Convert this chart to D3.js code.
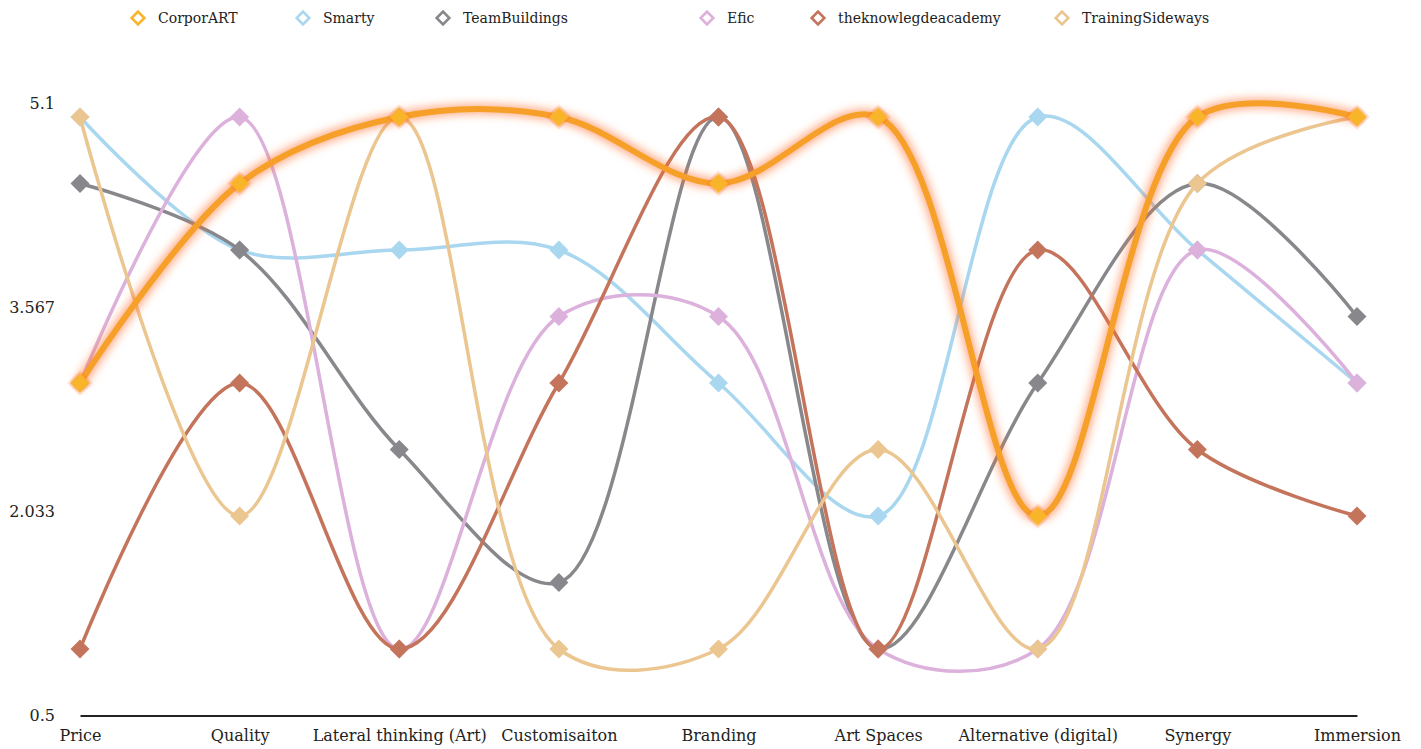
<!DOCTYPE html>
<html>
<head>
<meta charset="utf-8">
<script src="https://cdn.jsdelivr.net/npm/d3@7"></script>
<style>
  body { margin: 0; background: #fff; }
  svg text { font-family: "DejaVu Serif", serif; fill: #222; }
</style>
</head>
<body>
<div id="chart"></div>
<script>
const categories = ["Price", "Quality", "Lateral thinking (Art)", "Customisaiton", "Branding",
    "Art Spaces", "Alternative (digital)", "Synergy", "Immersion"];
const yTicks = [0.5, 2.033, 3.567, 5.1];

const seriesNames = ["CorporART", "Smarty", "TeamBuildings", "Efic", "theknowlegdeacademy", "TrainingSideways"];
const corporART = [3, 4.5, 5, 5, 4.5, 5, 2, 5, 5];
const smarty = [5, 4, 4, 4, 3, 2, 5, 4, 3];
const teamBuildings = [4.5, 4, 2.5, 1.5, 5, 1, 3, 4.5, 3.5];
const efic = [3, 5, 1, 3.5, 3.5, 1, 1, 4, 3];
const knowlegdeAcademy = [1, 3, 1, 3, 5, 1, 4, 2.5, 2];
const trainingSideways = [5, 2, 5, 1, 1, 2.5, 1, 4.5, 5];

const seriesValues = [corporART, smarty, teamBuildings, efic, knowlegdeAcademy, trainingSideways];
const lineColors = ["#f6a02b", "#a9d7f0", "#88888c", "#dcb1dc", "#c5745c", "#ebc690"];
const dotColors = ["#f8b52a", "#a9d7f0", "#88888c", "#dcb1dc", "#c5745c", "#ebc690"];

const W = 1421, H = 749;
const svg = d3.select("#chart").append("svg")
    .attr("width", W).attr("height", H);

// glow for the highlighted series
const defs = svg.append("defs");
const glow = defs.append("filter").attr("id", "glow")
    .attr("x", "-10%").attr("y", "-10%").attr("width", "120%").attr("height", "120%");
glow.append("feFlood").attr("flood-color", "#ff6a2a").attr("flood-opacity", 0.55).attr("result", "c");
glow.append("feComposite").attr("in", "c").attr("in2", "SourceAlpha").attr("operator", "in").attr("result", "col");
glow.append("feMorphology").attr("in", "col").attr("operator", "dilate").attr("radius", 2).attr("result", "dil");
glow.append("feGaussianBlur").attr("in", "dil").attr("stdDeviation", 4).attr("result", "blur");
const merge = glow.append("feMerge");
merge.append("feMergeNode").attr("in", "blur");
merge.append("feMergeNode").attr("in", "SourceGraphic");

const x = d3.scalePoint().domain(categories).range([80, 1357]);
const y = d3.scaleLinear().domain([0.5, 5.1]).range([715.5, 103.7]);

// y tick labels (no axis line)
svg.append("g").selectAll("text")
    .data(yTicks)
    .join("text")
    .attr("x", 55)
    .attr("y", d => y(d))
    .attr("dy", "0.35em")
    .attr("text-anchor", "end")
    .style("font-size", "16px")
    .text(d => d);

// bottom axis
const xAxis = svg.append("g")
    .attr("transform", `translate(0,${y(0.5)})`)
    .call(d3.axisBottom(x).tickSize(0).tickPadding(14));
xAxis.select(".domain").attr("stroke", "#222").attr("stroke-width", 2.2);
xAxis.selectAll("text")
    .style("font-family", "DejaVu Serif, serif")
    .style("font-size", "16px")
    .attr("fill", "#222");

const line = d3.line()
    .x((d, i) => x(categories[i]))
    .y(d => y(d))
    .curve(d3.curveCatmullRom);

const diamond = d3.symbol().type(d3.symbolSquare).size(180);

// draw highlighted series last so it sits on top
const order = [1, 2, 3, 4, 5, 0];
order.forEach(si => {
    const g = svg.append("g");
    const vals = seriesValues[si];
    const hl = si === 0;
    g.append("path")
        .datum(vals)
        .attr("d", line)
        .attr("fill", "none")
        .attr("stroke", lineColors[si])
        .attr("stroke-width", hl ? 6 : 3.5)
        .attr("stroke-linejoin", "round")
        .attr("filter", hl ? "url(#glow)" : null);
    g.selectAll("path.dot")
        .data(vals)
        .join("path")
        .attr("class", "dot")
        .attr("d", diamond)
        .attr("transform", (d, i) => `translate(${x(categories[i])},${y(d)}) rotate(45)`)
        .attr("fill", dotColors[si])
        .attr("filter", hl ? "url(#glow)" : null);
});

// legend
const legendX = [138, 303, 443, 707, 818, 1062];
const legend = svg.append("g").selectAll("g")
    .data(seriesNames)
    .join("g")
    .attr("transform", (d, i) => `translate(${legendX[i]},18)`);
legend.append("path")
    .attr("d", d3.symbol().type(d3.symbolSquare).size(80))
    .attr("transform", "rotate(45)")
    .attr("fill", "#fff")
    .attr("stroke", (d, i) => dotColors[i])
    .attr("stroke-width", 2.6);
legend.append("text")
    .attr("x", 20)
    .attr("dy", "0.35em")
    .style("font-size", "14px")
    .attr("fill", "#333")
    .text(d => d);
</script>
</body>
</html>
